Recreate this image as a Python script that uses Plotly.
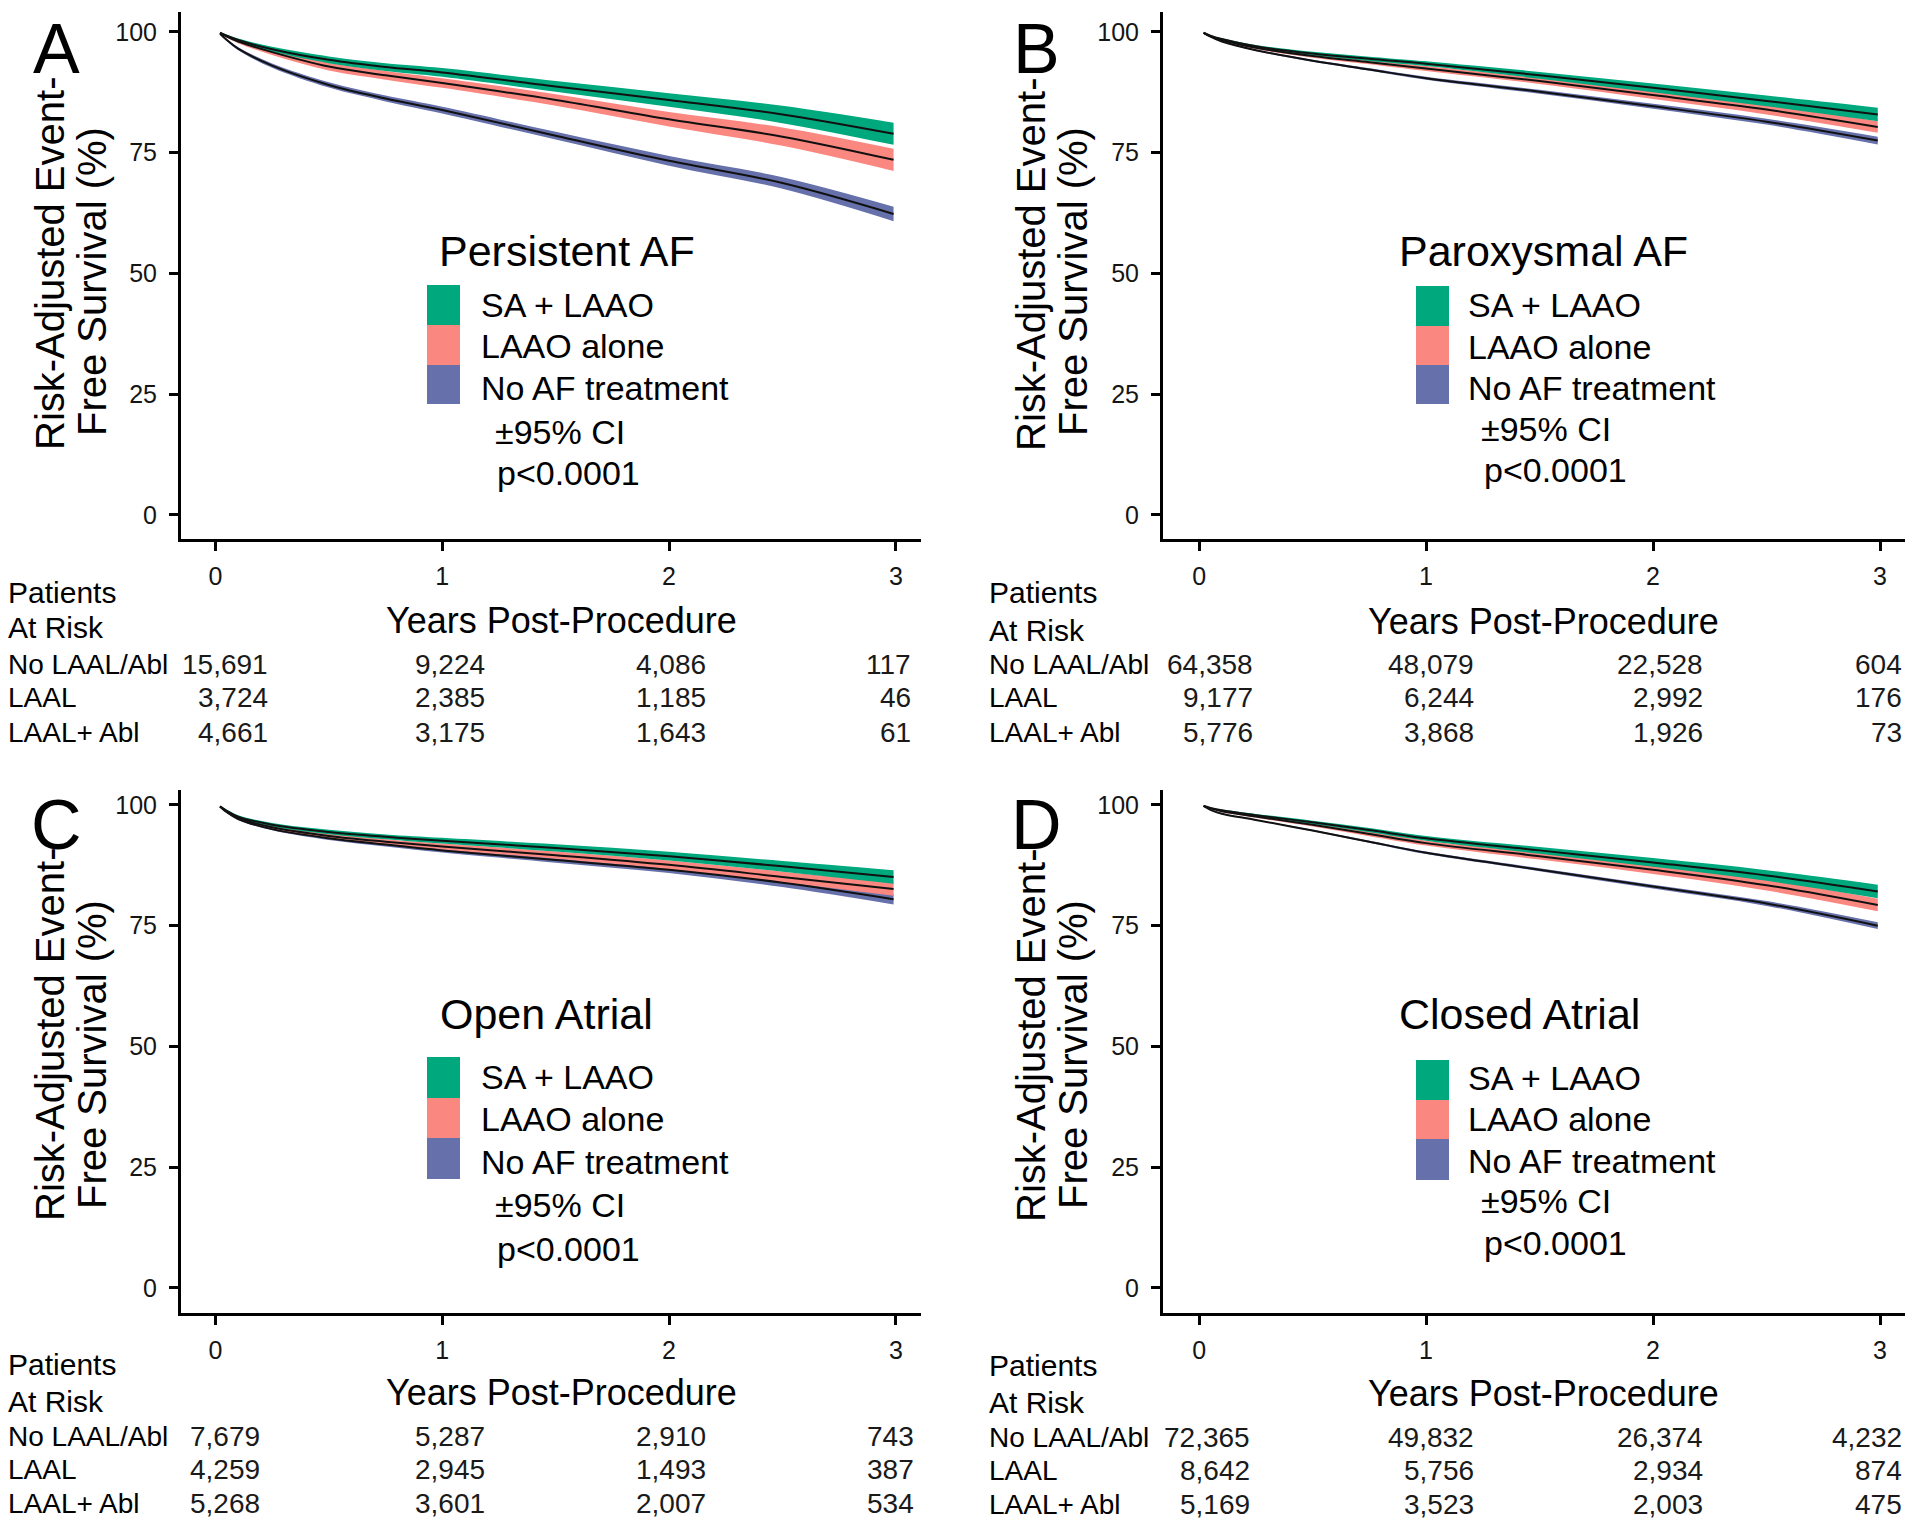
import plotly.graph_objects as go

# page body adds an 8px margin; the canvas is shrunk and shifted to compensate
OFF = 8
W, H = 1920 - OFF, 1520 - OFF
FONT = "Liberation Sans, Arial, sans-serif"

# ---------------- data ----------------
years = [0.02, 0.05, 0.1, 0.25, 0.5, 0.75, 1.0, 1.5, 2.0, 2.5, 2.99]
series_names = ["SA + LAAO", "LAAO alone", "No AF treatment"]
colors = ["#00A87D", "#FA8780", "#6670AA"]

# Panel A: Persistent AF
A_sa = [99.8, 99.2, 98.3, 96.4, 94.2, 92.7, 91.6, 88.7, 85.9, 82.9, 78.9]
A_laao = [99.8, 99.0, 98.0, 95.8, 92.8, 91.0, 89.4, 85.9, 81.9, 78.3, 73.5]
A_none = [99.6, 98.3, 96.5, 93.0, 89.0, 86.2, 83.8, 78.5, 73.3, 68.7, 62.3]
A_sa_ci = [0.1, 0.2, 0.3, 0.5, 0.7, 0.8, 0.9, 1.1, 1.4, 1.8, 2.3]
A_laao_ci = [0.1, 0.2, 0.35, 0.6, 0.8, 0.9, 1.0, 1.2, 1.5, 1.9, 2.3]
A_none_ci = [0.1, 0.2, 0.3, 0.45, 0.55, 0.6, 0.7, 0.8, 1.0, 1.2, 1.5]

# Panel B: Paroxysmal AF
B_sa = [99.8, 99.2, 98.5, 97.0, 95.5, 94.4, 93.4, 91.0, 88.4, 85.7, 82.9]
B_laao = [99.8, 99.1, 98.3, 96.7, 95.0, 93.7, 92.4, 89.8, 86.9, 83.9, 80.3]
B_none = [99.8, 99.0, 98.0, 96.2, 94.0, 92.2, 90.4, 87.6, 84.6, 81.4, 77.5]
B_sa_ci = [0.05, 0.1, 0.15, 0.25, 0.35, 0.45, 0.5, 0.7, 0.9, 1.1, 1.4]
B_laao_ci = [0.05, 0.1, 0.15, 0.25, 0.35, 0.4, 0.5, 0.6, 0.8, 1.0, 1.2]
B_none_ci = [0.05, 0.1, 0.1, 0.15, 0.2, 0.25, 0.3, 0.4, 0.5, 0.6, 0.8]

# Panel C: Open Atrial
C_sa = [99.7, 98.8, 97.6, 95.9, 94.4, 93.4, 92.6, 91.1, 89.4, 87.3, 85.1]
C_laao = [99.7, 98.6, 97.3, 95.4, 93.6, 92.4, 91.4, 89.6, 87.6, 85.1, 82.6]
C_none = [99.7, 98.5, 97.1, 95.0, 93.1, 91.8, 90.6, 88.6, 86.6, 83.9, 80.5]
C_sa_ci = [0.1, 0.2, 0.25, 0.35, 0.45, 0.5, 0.6, 0.75, 0.9, 1.1, 1.4]
C_laao_ci = [0.1, 0.2, 0.25, 0.35, 0.45, 0.5, 0.6, 0.75, 0.9, 1.1, 1.4]
C_none_ci = [0.1, 0.15, 0.2, 0.25, 0.35, 0.4, 0.45, 0.55, 0.7, 0.9, 1.1]

# Panel D: Closed Atrial
D_sa = [99.8, 99.4, 98.9, 97.9, 96.4, 94.8, 93.1, 90.6, 88.1, 85.4, 82.1]
D_laao = [99.8, 99.3, 98.7, 97.6, 95.9, 94.0, 92.1, 89.4, 86.6, 83.4, 79.3]
D_none = [99.8, 99.0, 98.2, 96.9, 94.7, 92.4, 90.1, 86.6, 83.1, 79.6, 75.0]
D_sa_ci = [0.05, 0.1, 0.15, 0.25, 0.35, 0.45, 0.5, 0.7, 0.9, 1.1, 1.4]
D_laao_ci = [0.05, 0.1, 0.15, 0.25, 0.35, 0.45, 0.5, 0.7, 0.9, 1.1, 1.3]
D_none_ci = [0.05, 0.05, 0.1, 0.1, 0.15, 0.2, 0.25, 0.3, 0.4, 0.5, 0.7]

panel_titles = ["Persistent AF", "Paroxysmal AF", "Open Atrial", "Closed Atrial"]
panel_letters = ["A", "B", "C", "D"]

x_ticks = [0, 1, 2, 3]
y_ticks = [0, 25, 50, 75, 100]
risk_rows = ["No LAAL/Abl", "LAAL", "LAAL+ Abl"]

A_risk = [["15,691", "9,224", "4,086", "117"],
          ["3,724", "2,385", "1,185", "46"],
          ["4,661", "3,175", "1,643", "61"]]
B_risk = [["64,358", "48,079", "22,528", "604"],
          ["9,177", "6,244", "2,992", "176"],
          ["5,776", "3,868", "1,926", "73"]]
C_risk = [["7,679", "5,287", "2,910", "743"],
          ["4,259", "2,945", "1,493", "387"],
          ["5,268", "3,601", "2,007", "534"]]
D_risk = [["72,365", "49,832", "26,374", "4,232"],
          ["8,642", "5,756", "2,934", "874"],
          ["5,169", "3,523", "2,003", "475"]]

# ---------------- layout helpers (pixel positions in the 1920x1520 page) ----------------
def px(x):
    return (x - OFF) / W

def py(y):
    return 1 - (y - OFF) / H

panels = [
    dict(vals=[A_sa, A_laao, A_none], ci=[A_sa_ci, A_laao_ci, A_none_ci], risk=A_risk,
         dom_x=(181, 921), dom_y=(12, 539), xr=[-0.152, 3.111], yr=[-4.97, 104.1],
         letter=(56, 49), ytitle=(50, 264, 92, 282), xtitle=(561, 620),
         leg=dict(title=(437, 251), sq_x=(427, 460), sq_y=(285, 325, 365, 404),
                  txt_x=479, txt_y=(305, 346, 388), ci=(493, 432), p=(495, 473)),
         risk_lbl_x=6, risk_head_y=(592, 628), risk_y=(664, 698, 732),
         col_right=(270, 487, 708, 913)),
    dict(vals=[B_sa, B_laao, B_none], ci=[B_sa_ci, B_laao_ci, B_none_ci], risk=B_risk,
         dom_x=(1163, 1905), dom_y=(12, 539), xr=[-0.159, 3.11], yr=[-4.97, 104.1],
         letter=(1036, 49), ytitle=(1031, 264, 1073, 282), xtitle=(1543, 621),
         leg=dict(title=(1397, 251), sq_x=(1416, 1449), sq_y=(286, 326, 365, 404),
                  txt_x=1466, txt_y=(305, 347, 388), ci=(1479, 429), p=(1482, 470)),
         risk_lbl_x=987, risk_head_y=(593, 630), risk_y=(664, 698, 732),
         col_right=(1255, 1476, 1705, 1904)),
    dict(vals=[C_sa, C_laao, C_none], ci=[C_sa_ci, C_laao_ci, C_none_ci], risk=C_risk,
         dom_x=(181, 921), dom_y=(790, 1313), xr=[-0.152, 3.111], yr=[-5.18, 103.1],
         letter=(56, 825), ytitle=(50, 1035, 92, 1055), xtitle=(561, 1392),
         leg=dict(title=(438, 1014), sq_x=(427, 460), sq_y=(1057, 1098, 1138, 1179),
                  txt_x=479, txt_y=(1077, 1119, 1162), ci=(493, 1205), p=(495, 1249)),
         risk_lbl_x=6, risk_head_y=(1364, 1401), risk_y=(1436, 1469, 1503),
         col_right=(262, 487, 708, 916)),
    dict(vals=[D_sa, D_laao, D_none], ci=[D_sa_ci, D_laao_ci, D_none_ci], risk=D_risk,
         dom_x=(1163, 1905), dom_y=(790, 1313), xr=[-0.159, 3.11], yr=[-5.18, 103.1],
         letter=(1036, 825), ytitle=(1031, 1035, 1073, 1055), xtitle=(1543, 1393),
         leg=dict(title=(1397, 1014), sq_x=(1416, 1449), sq_y=(1060, 1100, 1139, 1180),
                  txt_x=1466, txt_y=(1078, 1119, 1161), ci=(1479, 1201), p=(1482, 1243)),
         risk_lbl_x=987, risk_head_y=(1365, 1402), risk_y=(1437, 1470, 1504),
         col_right=(1252, 1476, 1705, 1904)),
]

fig = go.Figure()
annotations = []
shapes = []

for i, p in enumerate(panels):
    n = i + 1
    xa = "x" if n == 1 else f"x{n}"
    ya = "y" if n == 1 else f"y{n}"
    # bands (no-treatment first, then LAAO, then SA+LAAO on top)
    for k in [2, 1, 0]:
        v, c = p["vals"][k], p["ci"][k]
        lower = [a - b for a, b in zip(v, c)]
        upper = [a + b for a, b in zip(v, c)]
        fig.add_trace(go.Scatter(x=years, y=lower, mode="lines", line=dict(width=0, color=colors[k], shape="spline"),
                                 xaxis=xa, yaxis=ya, showlegend=False, hoverinfo="skip"))
        fig.add_trace(go.Scatter(x=years, y=upper, mode="lines", line=dict(width=0, color=colors[k], shape="spline"),
                                 fill="tonexty", fillcolor=colors[k],
                                 xaxis=xa, yaxis=ya, showlegend=False, hoverinfo="skip"))
    for k in [2, 1, 0]:
        fig.add_trace(go.Scatter(x=years, y=p["vals"][k], mode="lines", name=series_names[k],
                                 line=dict(width=2, color="#111111", shape="spline"),
                                 xaxis=xa, yaxis=ya, showlegend=False))

    axis_common = dict(showline=True, linecolor="black", linewidth=3, ticks="outside", ticklen=9,
                       tickwidth=3, tickcolor="black", showgrid=False, zeroline=False,
                       tickfont=dict(family=FONT, size=25, color="#151515"), fixedrange=True)
    fig.layout[f"xaxis{'' if n == 1 else n}"] = dict(
        domain=[px(p["dom_x"][0]), px(p["dom_x"][1])], range=p["xr"], anchor=ya,
        tickvals=x_ticks, ticktext=[str(t) for t in x_ticks], ticklabelstandoff=4, **axis_common)
    fig.layout[f"yaxis{'' if n == 1 else n}"] = dict(
        domain=[py(p["dom_y"][1]), py(p["dom_y"][0])], range=p["yr"], anchor=xa,
        tickvals=y_ticks, ticktext=[str(t) for t in y_ticks], ticklabelstandoff=7, **axis_common)

    def ann(x, y, text, size, xanchor="left", angle=0, color="black"):
        annotations.append(dict(x=px(x), y=py(y), xref="paper", yref="paper", text=text,
                                showarrow=False, xanchor=xanchor, yanchor="middle", textangle=angle,
                                font=dict(family=FONT, size=size, color=color)))

    # panel letter
    ann(p["letter"][0], p["letter"][1], panel_letters[i], 70, xanchor="center")
    # y title (two lines)
    yt = p["ytitle"]
    ann(yt[0], yt[1], "Risk-Adjusted Event-", 40, xanchor="center", angle=-90)
    ann(yt[2], yt[3], "Free Survival (%)", 40, xanchor="center", angle=-90)
    # x title
    ann(p["xtitle"][0], p["xtitle"][1], "Years Post-Procedure", 36, xanchor="center")

    # legend
    lg = p["leg"]
    ann(lg["title"][0], lg["title"][1], panel_titles[i], 43)
    for k in range(3):
        shapes.append(dict(type="rect", xref="paper", yref="paper",
                           x0=px(lg["sq_x"][0]), x1=px(lg["sq_x"][1]),
                           y0=py(lg["sq_y"][k + 1]), y1=py(lg["sq_y"][k]),
                           fillcolor=colors[k], line=dict(width=0), layer="above"))
        ann(lg["txt_x"], lg["txt_y"][k], series_names[k], 34)
    ann(lg["ci"][0], lg["ci"][1], "±95% CI", 34)
    ann(lg["p"][0], lg["p"][1], "p<0.0001", 34)

    # risk table
    ann(p["risk_lbl_x"], p["risk_head_y"][0], "Patients", 30)
    ann(p["risk_lbl_x"], p["risk_head_y"][1], "At Risk", 30)
    for r in range(3):
        ann(p["risk_lbl_x"], p["risk_y"][r], risk_rows[r], 28)
        for cidx in range(4):
            ann(p["col_right"][cidx], p["risk_y"][r], p["risk"][r][cidx], 28, xanchor="right", color="#1a1a1a")

fig.update_layout(width=W, height=H, margin=dict(l=0, r=0, t=0, b=0),
                  paper_bgcolor="white", plot_bgcolor="white",
                  annotations=annotations, shapes=shapes, showlegend=False)

fig.write_html("out.html")
